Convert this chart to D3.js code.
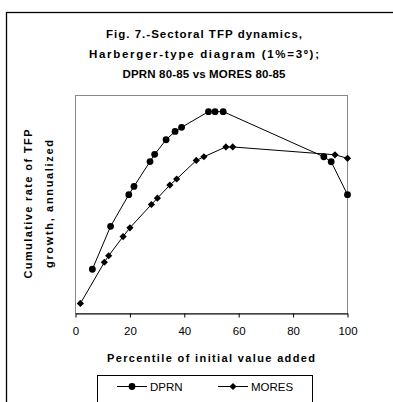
<!DOCTYPE html>
<html>
<head>
<meta charset="utf-8">
<script src="https://cdn.jsdelivr.net/npm/d3@7"></script>
<style>
  html, body { margin: 0; padding: 0; background: #fff; }
  svg { display: block; font-family: "Liberation Sans", Arial, sans-serif; }
</style>
</head>
<body>
<svg id="chart" width="393" height="402"></svg>
<script>
// Percentile of initial value added (x) and cumulative TFP growth index (y)
const dprnX  = [6.2, 12.9, 19.6, 21.5, 27.4, 29.1, 33.3, 36.6, 39.0, 48.9, 51.3, 54.3, 91.3, 94.0, 100];
const dprnY  = [20.3, 40.0, 54.5, 58.3, 69.7, 73.0, 79.7, 83.5, 85.4, 92.6, 92.6, 92.6, 71.9, 69.6, 54.5];
const moresX = [1.8, 10.6, 12.2, 17.5, 20.0, 27.9, 30.1, 34.7, 37.2, 44.4, 47.2, 55.3, 57.8, 95.4, 100];
const moresY = [4.6, 23.5, 26.5, 35.3, 39.3, 50.0, 52.9, 58.9, 61.7, 70.2, 71.9, 76.4, 76.4, 72.8, 71.2];
const xTicks = [0, 20, 40, 60, 80, 100];
const seriesNames = ["DPRN", "MORES"];
const titleLines = ["Fig. 7.-Sectoral TFP dynamics,", "Harberger-type diagram (1%=3º);", "DPRN 80-85 vs MORES 80-85"];
const yTitleLines = ["Cumulative rate of TFP", "growth, annualized"];
const xTitle = "Percentile of initial value added";

const svg = d3.select("#chart");
const plot = { left: 75.5, right: 347.5, top: 95.5, bottom: 313.5 };

const x = d3.scaleLinear().domain([0, 100]).range([plot.left, plot.right]);
const y = d3.scaleLinear().domain([0, 100]).range([plot.bottom, plot.top]);

// outer chart frame
svg.append("rect")
  .attr("x", 6.5).attr("y", 12.5).attr("width", 420).attr("height", 420)
  .attr("fill", "none").attr("stroke", "#000").attr("stroke-width", 1.3);

// title
const titleW = [196, 230, 163];
const titleBase = [37.5, 57.5, 77.5];
svg.append("g").selectAll("text").data(titleLines).join("text")
  .attr("x", 204).attr("y", (d, i) => titleBase[i])
  .attr("text-anchor", "middle")
  .attr("font-size", 11.5).attr("font-weight", "bold")
  .attr("textLength", (d, i) => titleW[i]).attr("lengthAdjust", "spacing")
  .text(d => d);

// plot area border
svg.append("rect")
  .attr("x", plot.left).attr("y", plot.top)
  .attr("width", plot.right - plot.left).attr("height", plot.bottom - plot.top)
  .attr("fill", "none").attr("stroke", "#888").attr("stroke-width", 1);

// x axis
const xAxis = d3.axisBottom(x).tickValues(xTicks).tickSize(4).tickPadding(5).tickSizeOuter(0);
const gx = svg.append("g").attr("transform", `translate(0,${plot.bottom})`).call(xAxis);
gx.select(".domain").attr("stroke", "#000");
gx.selectAll(".tick line").attr("stroke", "#000");
gx.selectAll(".tick text")
  .attr("font-family", "\"Liberation Sans\", Arial, sans-serif")
  .attr("font-size", 11.5).attr("fill", "#000")
  .attr("dy", null).attr("y", 21.5);

// x axis title
svg.append("text")
  .attr("x", 211).attr("y", 361.5)
  .attr("text-anchor", "middle")
  .attr("font-size", 11).attr("font-weight", "bold")
  .attr("textLength", 208).attr("lengthAdjust", "spacing")
  .text(xTitle);

// y axis title (two rotated lines)
const yTitleX = [31.5, 52.5];
const yTitleW = [149, 128];
svg.append("g").selectAll("text").data(yTitleLines).join("text")
  .attr("transform", (d, i) => `translate(${yTitleX[i]},204) rotate(-90)`)
  .attr("text-anchor", "middle")
  .attr("font-size", 11).attr("font-weight", "bold")
  .attr("textLength", (d, i) => yTitleW[i]).attr("lengthAdjust", "spacing")
  .text(d => d);

// series
const dprn = dprnX.map((v, i) => [v, dprnY[i]]);
const mores = moresX.map((v, i) => [v, moresY[i]]);
const line = d3.line().x(d => x(d[0])).y(d => y(d[1]));

const diamond = r => `M0,${-r}L${r},0L0,${r}L${-r},0Z`;

function drawSeries(data, marker) {
  const g = svg.append("g");
  g.append("path").datum(data)
    .attr("d", line).attr("fill", "none").attr("stroke", "#000").attr("stroke-width", 1);
  if (marker === "circle") {
    g.selectAll("circle").data(data).join("circle")
      .attr("cx", d => x(d[0])).attr("cy", d => y(d[1])).attr("r", 3.4).attr("fill", "#000");
  } else {
    g.selectAll("path.m").data(data).join("path").attr("class", "m")
      .attr("transform", d => `translate(${x(d[0])},${y(d[1])})`)
      .attr("d", diamond(3.6)).attr("fill", "#000");
  }
}
drawSeries(mores, "diamond");
drawSeries(dprn, "circle");

// legend
const lg = svg.append("g");
lg.append("rect")
  .attr("x", 97.5).attr("y", 375.5).attr("width", 215).attr("height", 40)
  .attr("fill", "#fff").attr("stroke", "#000").attr("stroke-width", 1);
const legendItems = [
  { name: seriesNames[0], x0: 117, marker: "circle" },
  { name: seriesNames[1], x0: 218, marker: "diamond" }
];
legendItems.forEach(it => {
  lg.append("line").attr("x1", it.x0).attr("x2", it.x0 + 30)
    .attr("y1", 386.5).attr("y2", 386.5).attr("stroke", "#000").attr("stroke-width", 1);
  if (it.marker === "circle") {
    lg.append("circle").attr("cx", it.x0 + 15).attr("cy", 386.5).attr("r", 3.4).attr("fill", "#000");
  } else {
    lg.append("path").attr("transform", `translate(${it.x0 + 15},386.5)`)
      .attr("d", diamond(3.6)).attr("fill", "#000");
  }
  lg.append("text").attr("x", it.x0 + 33).attr("y", 390.5)
    .attr("font-size", 11.5).text(it.name);
});
</script>
</body>
</html>
